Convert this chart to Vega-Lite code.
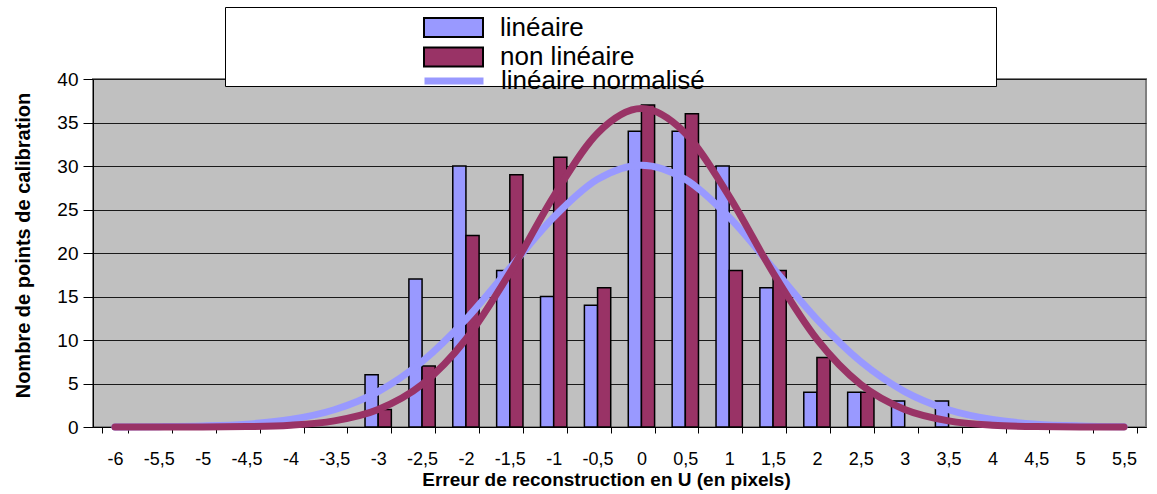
{
  "$schema": "https://vega.github.io/schema/vega-lite/v6.json",
  "width": 1053,
  "height": 348,
  "autosize": {"type": "none"},
  "padding": {"left": 93, "top": 79, "right": 11, "bottom": 67},
  "background": "white",
  "config": {
    "font": "Liberation Sans",
    "view": {"fill": "#C0C0C0", "stroke": "#808080", "strokeWidth": 2}
  },
  "datasets": {
    "barres": [
      {"erreur": "-3", "serie": "linéaire", "n": 6},
      {"erreur": "-2,5", "serie": "linéaire", "n": 17},
      {"erreur": "-2", "serie": "linéaire", "n": 30},
      {"erreur": "-1,5", "serie": "linéaire", "n": 18},
      {"erreur": "-1", "serie": "linéaire", "n": 15},
      {"erreur": "-0,5", "serie": "linéaire", "n": 14},
      {"erreur": "0", "serie": "linéaire", "n": 34},
      {"erreur": "0,5", "serie": "linéaire", "n": 34},
      {"erreur": "1", "serie": "linéaire", "n": 30},
      {"erreur": "1,5", "serie": "linéaire", "n": 16},
      {"erreur": "2", "serie": "linéaire", "n": 4},
      {"erreur": "2,5", "serie": "linéaire", "n": 4},
      {"erreur": "3", "serie": "linéaire", "n": 3},
      {"erreur": "3,5", "serie": "linéaire", "n": 3},
      {"erreur": "-3", "serie": "non linéaire", "n": 2},
      {"erreur": "-2,5", "serie": "non linéaire", "n": 7},
      {"erreur": "-2", "serie": "non linéaire", "n": 22},
      {"erreur": "-1,5", "serie": "non linéaire", "n": 29},
      {"erreur": "-1", "serie": "non linéaire", "n": 31},
      {"erreur": "-0,5", "serie": "non linéaire", "n": 16},
      {"erreur": "0", "serie": "non linéaire", "n": 37},
      {"erreur": "0,5", "serie": "non linéaire", "n": 36},
      {"erreur": "1", "serie": "non linéaire", "n": 18},
      {"erreur": "1,5", "serie": "non linéaire", "n": 18},
      {"erreur": "2", "serie": "non linéaire", "n": 8},
      {"erreur": "2,5", "serie": "non linéaire", "n": 4}
    ],
    "courbes": [
      {"erreur": "-6", "courbe": "linéaire normalisé", "valeur": 0.01},
      {"erreur": "-5,5", "courbe": "linéaire normalisé", "valeur": 0.04},
      {"erreur": "-5", "courbe": "linéaire normalisé", "valeur": 0.12},
      {"erreur": "-4,5", "courbe": "linéaire normalisé", "valeur": 0.33},
      {"erreur": "-4", "courbe": "linéaire normalisé", "valeur": 0.86},
      {"erreur": "-3,5", "courbe": "linéaire normalisé", "valeur": 1.98},
      {"erreur": "-3", "courbe": "linéaire normalisé", "valeur": 4.07},
      {"erreur": "-2,5", "courbe": "linéaire normalisé", "valeur": 7.51},
      {"erreur": "-2", "courbe": "linéaire normalisé", "valeur": 12.37},
      {"erreur": "-1,5", "courbe": "linéaire normalisé", "valeur": 18.26},
      {"erreur": "-1", "courbe": "linéaire normalisé", "valeur": 24.1},
      {"erreur": "-0,5", "courbe": "linéaire normalisé", "valeur": 28.47},
      {"erreur": "0", "courbe": "linéaire normalisé", "valeur": 30.1},
      {"erreur": "0,5", "courbe": "linéaire normalisé", "valeur": 28.47},
      {"erreur": "1", "courbe": "linéaire normalisé", "valeur": 24.1},
      {"erreur": "1,5", "courbe": "linéaire normalisé", "valeur": 18.26},
      {"erreur": "2", "courbe": "linéaire normalisé", "valeur": 12.37},
      {"erreur": "2,5", "courbe": "linéaire normalisé", "valeur": 7.51},
      {"erreur": "3", "courbe": "linéaire normalisé", "valeur": 4.07},
      {"erreur": "3,5", "courbe": "linéaire normalisé", "valeur": 1.98},
      {"erreur": "4", "courbe": "linéaire normalisé", "valeur": 0.86},
      {"erreur": "4,5", "courbe": "linéaire normalisé", "valeur": 0.33},
      {"erreur": "5", "courbe": "linéaire normalisé", "valeur": 0.12},
      {"erreur": "5,5", "courbe": "linéaire normalisé", "valeur": 0.04},
      {"erreur": "-6", "courbe": "non linéaire normalisé", "valeur": 0.0},
      {"erreur": "-5,5", "courbe": "non linéaire normalisé", "valeur": 0.0},
      {"erreur": "-5", "courbe": "non linéaire normalisé", "valeur": 0.01},
      {"erreur": "-4,5", "courbe": "non linéaire normalisé", "valeur": 0.05},
      {"erreur": "-4", "courbe": "non linéaire normalisé", "valeur": 0.21},
      {"erreur": "-3,5", "courbe": "non linéaire normalisé", "valeur": 0.71},
      {"erreur": "-3", "courbe": "non linéaire normalisé", "valeur": 2.02},
      {"erreur": "-2,5", "courbe": "non linéaire normalisé", "valeur": 4.89},
      {"erreur": "-2", "courbe": "non linéaire normalisé", "valeur": 10.09},
      {"erreur": "-1,5", "courbe": "non linéaire normalisé", "valeur": 17.73},
      {"erreur": "-1", "courbe": "non linéaire normalisé", "valeur": 26.52},
      {"erreur": "-0,5", "courbe": "non linéaire normalisé", "valeur": 33.77},
      {"erreur": "0", "courbe": "non linéaire normalisé", "valeur": 36.6},
      {"erreur": "0,5", "courbe": "non linéaire normalisé", "valeur": 33.77},
      {"erreur": "1", "courbe": "non linéaire normalisé", "valeur": 26.52},
      {"erreur": "1,5", "courbe": "non linéaire normalisé", "valeur": 17.73},
      {"erreur": "2", "courbe": "non linéaire normalisé", "valeur": 10.09},
      {"erreur": "2,5", "courbe": "non linéaire normalisé", "valeur": 4.89},
      {"erreur": "3", "courbe": "non linéaire normalisé", "valeur": 2.02},
      {"erreur": "3,5", "courbe": "non linéaire normalisé", "valeur": 0.71},
      {"erreur": "4", "courbe": "non linéaire normalisé", "valeur": 0.21},
      {"erreur": "4,5", "courbe": "non linéaire normalisé", "valeur": 0.05},
      {"erreur": "5", "courbe": "non linéaire normalisé", "valeur": 0.01},
      {"erreur": "5,5", "courbe": "non linéaire normalisé", "valeur": 0.0}
    ]
  },
  "layer": [
    {
      "data": {"name": "barres"},
      "mark": {"type": "bar", "stroke": "black", "strokeWidth": 1.5},
      "encoding": {
        "x": {
          "field": "erreur",
          "type": "nominal",
          "title": "Erreur de reconstruction en U (en pixels)",
          "scale": {
            "domain": ["-6", "-5,5", "-5", "-4,5", "-4", "-3,5", "-3", "-2,5", "-2", "-1,5", "-1", "-0,5", "0", "0,5", "1", "1,5", "2", "2,5", "3", "3,5", "4", "4,5", "5", "5,5"],
            "paddingInner": 0.4,
            "paddingOuter": 0.2
          },
          "axis": {
            "labelAngle": 0,
            "labelFontSize": 18,
            "labelColor": "black",
            "labelPadding": 17,
            "labelBaseline": "top",
            "tickBand": "extent",
            "tickSize": 6,
            "tickColor": "black",
            "domainColor": "black",
            "grid": false,
            "titleFontSize": 19,
            "titleFontWeight": "bold",
            "titleColor": "black",
            "titleX": 513,
            "titleY": 52,
            "titleAlign": "center",
            "titleBaseline": "middle"
          }
        },
        "xOffset": {
          "field": "serie",
          "type": "nominal",
          "scale": {"domain": ["linéaire", "non linéaire"], "paddingInner": 0, "paddingOuter": 0}
        },
        "y": {
          "field": "n",
          "type": "quantitative",
          "title": "Nombre de points de calibration",
          "scale": {"domain": [0, 40]},
          "axis": {
            "values": [0, 5, 10, 15, 20, 25, 30, 35, 40],
            "labelFontSize": 19,
            "labelColor": "black",
            "labelPadding": 5,
            "tickSize": 10,
            "tickColor": "black",
            "domainColor": "black",
            "gridColor": "#1a1a1a",
            "gridWidth": 1,
            "titleFontSize": 20,
            "titleFontWeight": "bold",
            "titleColor": "black",
            "titleX": -70,
            "titleY": 166,
            "titleAlign": "center",
            "titleBaseline": "middle",
            "titleAngle": -90
          }
        },
        "fill": {
          "field": "serie",
          "type": "nominal",
          "scale": {"domain": ["linéaire", "non linéaire"], "range": ["#9999FF", "#993366"]},
          "legend": {
            "orient": "none",
            "legendX": 132,
            "legendY": -72,
            "title": "\u2800\u2800\u2800\u2800\u2800\u2800\u2800\u2800\u2800\u2800\u2800\u2800\u2800\u2800\u2800\u2800\u2800\u2800\u2800\u2800\u2800\u2800\u2800\u2800\u2800\u2800\u2800\u2800\u2800\u2800\u2800\u2800\u2800\u2800\u2800\u2800\u2800\u2800\u2800\u2800\u2800\u2800\u2800\u2800\u2800\u2800\u2800\u2800\u2800\u2800\u2800\u2800\u2800\u2800\u2800\u2800\u2800\u2800\u2800\u2800\u2800\u2800\u2800\u2800\u2800\u2800\u2800\u2800\u2800\u2800\u2800\u2800\u2800\u2800\u2800\u2800\u2800\u2800\u2800\u2800\u2800\u2800\u2800\u2800\u2800\u2800\u2800\u2800\u2800\u2800\u2800\u2800\u2800\u2800\u2800\u2800\u2800\u2800\u2800\u2800\u2800\u2800\u2800\u2800\u2800\u2800\u2800\u2800\u2800\u2800\u2800\u2800\u2800\u2800\u2800\u2800\u2800\u2800\u2800\u2800\u2800\u2800\u2800\u2800\u2800\u2800",
            "titleOrient": "bottom",
            "titleFontSize": 7.5,
            "titlePadding": 0,
            "titleLimit": 2000,
            "fillColor": "white",
            "strokeColor": "black",
            "padding": 7.5,
            "labelFontSize": 26,
            "labelColor": "black",
            "labelLimit": 400,
            "labelOffset": 33.5,
            "symbolType": "M-2.95,-0.95H2.95V0.95H-2.95Z",
            "symbolSize": 400,
            "symbolStrokeColor": "black",
            "symbolStrokeWidth": 2,
            "symbolOffset": 208,
            "rowPadding": 1.5
          }
        }
      }
    },
    {
      "data": {"name": "courbes"},
      "mark": {"type": "line", "strokeWidth": 7, "strokeCap": "round", "interpolate": "monotone"},
      "encoding": {
        "x": {"field": "erreur", "type": "nominal", "title": "Erreur de reconstruction en U (en pixels)"},
        "y": {"field": "valeur", "type": "quantitative", "title": "Nombre de points de calibration", "scale": {"domain": [0, 40]}},
        "order": {"value": null},
        "stroke": {
          "field": "courbe",
          "type": "nominal",
          "scale": {"domain": ["linéaire normalisé", "non linéaire normalisé"], "range": ["#9999FF", "#993366"]},
          "legend": {
            "orient": "none",
            "legendX": 132,
            "legendY": -19,
            "values": ["linéaire normalisé"],
            "title": null,
            "padding": 7.5,
            "labelFontSize": 26,
            "labelColor": "black",
            "labelLimit": 400,
            "labelOffset": 33.5,
            "symbolType": "M-2.95,0H2.95",
            "symbolSize": 400,
            "symbolStrokeWidth": 7,
            "symbolOffset": 208
          }
        }
      }
    }
  ]
}
